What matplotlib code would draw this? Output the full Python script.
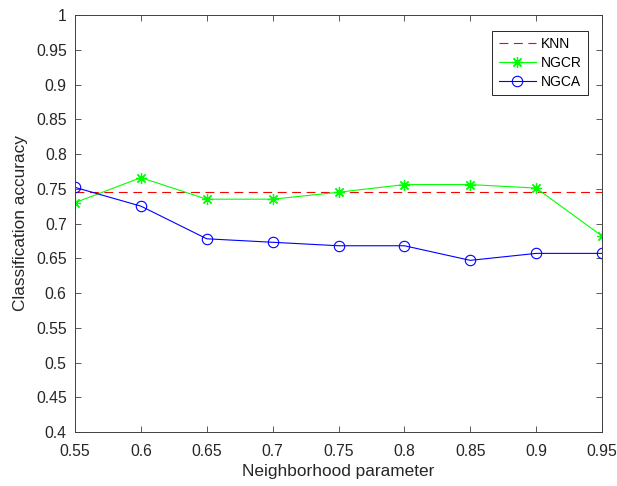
import matplotlib
matplotlib.use('Agg')
import matplotlib.pyplot as plt

# ── DATA ──────────────────────────────────────────────
x = [0.55, 0.6, 0.65, 0.7, 0.75, 0.8, 0.85, 0.9, 0.95]
knn = [0.745] * len(x)
ngcr = [0.730, 0.766, 0.735, 0.735, 0.745, 0.756, 0.756, 0.751, 0.682]
ngca = [0.752, 0.725, 0.678, 0.673, 0.668, 0.668, 0.647, 0.657, 0.657]

xticks = [0.55, 0.6, 0.65, 0.7, 0.75, 0.8, 0.85, 0.9, 0.95]
yticks = [0.4, 0.45, 0.5, 0.55, 0.6, 0.65, 0.7, 0.75, 0.8, 0.85, 0.9, 0.95, 1]

plt.rcParams['font.family'] = ['Liberation Sans', 'DejaVu Sans']

fig = plt.figure(figsize=(6.17, 4.86), dpi=100)
ax = fig.add_axes([0.1216, 0.1111, 0.8541, 0.858])

ax.plot(x, knn, color='red', ls=(0, (8, 5)), lw=0.8, label='KNN')
ax.plot(x, ngcr, color='#00ff00', lw=0.8, marker=(8, 2, 0), ms=8, mew=0.9, label='NGCR')
ax.plot(x, ngca, color='blue', lw=0.8, marker='o', ms=7.5, mfc='none', mew=0.8, label='NGCA')

ax.set_xlim(0.55, 0.95)
ax.set_ylim(0.4, 1)
ax.set_xticks(xticks)
ax.set_xticklabels([f'{v:g}' for v in xticks])
ax.set_yticks(yticks)
ax.set_yticklabels([f'{v:g}' for v in yticks])

ax.tick_params(direction='in', length=4, width=0.6, color='#404040',
               labelsize=11.3, labelcolor='#262626', top=True, right=True)
ax.tick_params(axis='x', pad=8.5)
ax.tick_params(axis='y', pad=6)
for s in ax.spines.values():
    s.set_color('#404040')
    s.set_linewidth(0.7)

ax.set_xlabel('Neighborhood parameter', fontsize=12.4, color='#262626', labelpad=3.5)
ax.set_ylabel('Classification accuracy', fontsize=12.4, color='#262626', labelpad=6)

leg = ax.legend(loc='upper right', bbox_to_anchor=(0.9725, 0.962), fontsize=10,
                fancybox=False, framealpha=1, edgecolor='#262626',
                handlelength=2.7, borderpad=0.45, labelspacing=0.35, handletextpad=0.3,
                borderaxespad=0)
leg.get_frame().set_linewidth(0.7)

plt.savefig('out.png', dpi=100)
